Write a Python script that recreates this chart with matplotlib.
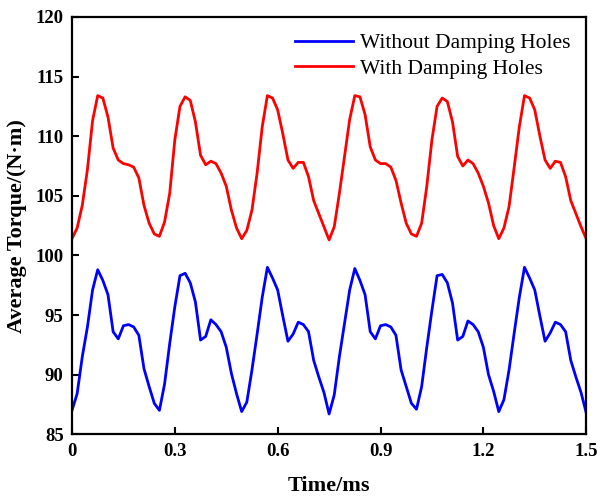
import matplotlib
matplotlib.use("Agg")
import matplotlib.pyplot as plt
import numpy as np

# time axis (ms), sampled every 0.015 ms
time_ms = np.round(np.arange(101) * 0.015, 3)

without_holes = [
    87.0, 88.4, 91.5, 94.0, 97.1, 98.8, 97.9, 96.7, 93.6, 93.0,
    94.1, 94.2, 94.0, 93.3, 90.5, 89.0, 87.6, 87.0, 89.2, 92.6,
    95.7, 98.3, 98.5, 97.7, 96.1, 92.9, 93.2, 94.6, 94.2, 93.6,
    92.3, 90.1, 88.4, 86.9, 87.7, 90.4, 93.4, 96.5, 99.0, 98.1,
    97.1, 94.9, 92.8, 93.4, 94.4, 94.2, 93.6, 91.2, 89.8, 88.5,
    86.7, 88.3, 91.5, 94.3, 97.1, 98.9, 97.9, 96.7, 93.6, 93.0,
    94.1, 94.2, 94.0, 93.3, 90.4, 89.0, 87.6, 87.1, 89.0, 92.3,
    95.4, 98.3, 98.4, 97.7, 96.0, 92.9, 93.2, 94.5, 94.2, 93.6,
    92.3, 90.0, 88.6, 86.9, 87.9, 90.4, 93.5, 96.5, 99.0, 98.1,
    97.1, 94.9, 92.8, 93.5, 94.4, 94.2, 93.6, 91.2, 89.8, 88.5,
    86.8,
]

with_holes = [
    101.4, 102.3, 104.2, 107.2, 111.3, 113.4, 113.2, 111.6, 109.0, 108.0,
    107.7, 107.6, 107.4, 106.5, 104.2, 102.7, 101.8, 101.6, 102.8, 105.2,
    109.7, 112.5, 113.3, 113.0, 111.2, 108.4, 107.6, 107.9, 107.7, 106.9,
    105.8, 103.8, 102.3, 101.4, 102.1, 103.8, 106.9, 110.8, 113.4, 113.2,
    112.2, 110.2, 108.0, 107.3, 107.8, 107.8, 106.6, 104.6, 103.5, 102.4,
    101.3, 102.4, 105.2, 108.3, 111.4, 113.4, 113.3, 111.8, 109.1, 108.0,
    107.7, 107.7, 107.4, 106.3, 104.4, 102.7, 101.8, 101.6, 102.7, 105.8,
    109.7, 112.5, 113.2, 112.9, 111.2, 108.3, 107.5, 108.0, 107.7, 106.9,
    105.8, 104.4, 102.5, 101.4, 102.3, 104.1, 107.4, 110.8, 113.4, 113.2,
    112.2, 110.0, 108.0, 107.3, 107.9, 107.8, 106.6, 104.6, 103.5, 102.4,
    101.4,
]

x_ticks = [0, 0.3, 0.6, 0.9, 1.2, 1.5]
x_tick_labels = ["0", "0.3", "0.6", "0.9", "1.2", "1.5"]
y_ticks = [85, 90, 95, 100, 105, 110, 115, 120]

plt.rcParams["font.family"] = ["Liberation Serif", "DejaVu Serif"]

fig = plt.figure(figsize=(6, 4.98), dpi=100)
ax = fig.add_axes([0.12, 0.128, 0.857, 0.838])

ax.plot(time_ms, without_holes, color="#0000ff", lw=2.0, label="Without Damping Holes")
ax.plot(time_ms, with_holes, color="#ff0000", lw=2.0, label="With Damping Holes")

ax.set_xlim(0, 1.5)
ax.set_ylim(85, 120)
ax.set_xticks(x_ticks)
ax.set_xticklabels(x_tick_labels)
ax.set_yticks(y_ticks)
ax.tick_params(direction="in", length=5, width=1.5, labelsize=13.5)
ax.tick_params(axis="x", pad=6)
ax.tick_params(axis="y", pad=6)
for lbl in ax.get_xticklabels() + ax.get_yticklabels():
    lbl.set_fontweight("bold")
for sp in ax.spines.values():
    sp.set_linewidth(1.6)

ax.set_xlabel("Time/ms", fontsize=16, fontweight="bold", labelpad=12)
ax.set_ylabel("Average Torque/(N\u00b7m)", fontsize=16, fontweight="bold", labelpad=6)

ax.legend(loc="upper right", frameon=False, fontsize=15.5, handlelength=2.7,
          borderaxespad=0.35, labelspacing=0.25, handletextpad=0.3)

fig.savefig("out.png", dpi=100)
